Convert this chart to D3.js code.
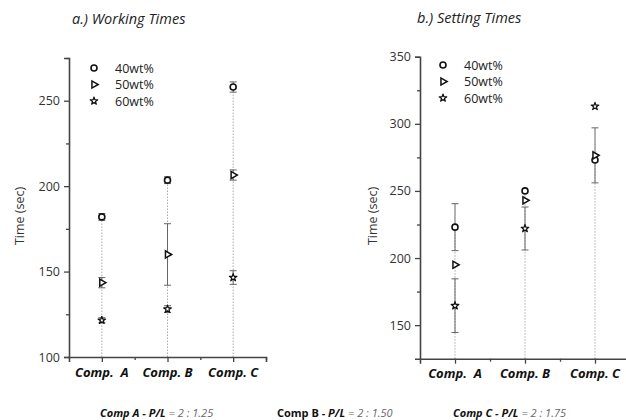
<!DOCTYPE html>
<html><head><meta charset="utf-8">
<script src="https://cdn.jsdelivr.net/npm/d3@7"></script>
<style>
body{margin:0;background:#fff;}
svg{font-family:"Open Sans","Noto Sans",sans-serif;}
</style></head>
<body><svg id="c" width="626" height="420"></svg>
<script>
const categories = ["Comp.  A", "Comp. B", "Comp. C"];
const seriesNames = ["40wt%", "50wt%", "60wt%"];
const working40 = [182, 203.5, 258];
const working40Err = [2, 2, 3];
const working50 = [143.5, 160, 206.5];
const working50Err = [3, 18, 3];
const working60 = [121.5, 128, 146.5];
const working60Err = [1.5, 2, 4];
const setting40 = [223, 250, 273];
const setting40Err = [17.5, 0, 0];
const setting50 = [195, 243, 276.5];
const setting50Err = [0, 0, 20.5];
const setting60 = [164.5, 222, 313];
const setting60Err = [20, 16, 0];
const workingTicks = [100, 125, 150, 175, 200, 225, 250, 275];
const settingTicks = [150, 175, 200, 225, 250, 275, 300, 325, 350];
const footers = [["Comp A", " - P/L", " = 2 : 1.25", true], ["Comp B", " - P/L", " = 2 : 1.50", false], ["Comp C", " - P/L", " = 2 : 1.75", true]];

const svg = d3.select("#c");

function panel(opts){
  const g = svg.append("g");
  const x = d3.scaleLinear().domain([0, 3]).range([opts.x0, opts.x1]);
  const y = d3.scaleLinear().domain(opts.domain).range([opts.y1, opts.y0]);
  const data = [[opts.v40, opts.e40], [opts.v50, opts.e50], [opts.v60, opts.e60]];

  // drop lines from 40wt% markers
  g.selectAll(".drop").data(categories).join("line")
    .attr("x1", (d,i)=>x(i+0.5)).attr("x2", (d,i)=>x(i+0.5))
    .attr("y1", y(opts.domain[0])).attr("y2", (d,i)=>y(opts.v40[i]))
    .attr("stroke", "#aaa").attr("stroke-width", 1).attr("stroke-dasharray", "1.5,1.5");

  // error bars
  data.forEach(([vals, errs]) => {
    vals.forEach((v, i) => {
      const e = errs[i];
      if (!e) return;
      const cx = x(i+0.5);
      const eg = g.append("g").attr("stroke", "#666").attr("stroke-width", 1);
      eg.append("line").attr("x1", cx).attr("x2", cx).attr("y1", y(v-e)).attr("y2", y(v+e));
      eg.append("line").attr("x1", cx-3.5).attr("x2", cx+3.5).attr("y1", y(v-e)).attr("y2", y(v-e));
      eg.append("line").attr("x1", cx-3.5).attr("x2", cx+3.5).attr("y1", y(v+e)).attr("y2", y(v+e));
    });
  });

  // markers
  data.forEach(([vals], s) => {
    vals.forEach((v, i) => {
      drawSym(g, s, x(i+0.5), y(v));
    });
  });

  // y axis
  const ya = d3.axisLeft(y).tickValues(opts.ticks).tickSize(5).tickPadding(4)
    .tickFormat(d => d % 50 === 0 ? d : "");
  const yg = g.append("g").attr("transform", `translate(${opts.x0},0)`).call(ya);
  yg.selectAll(".tick line").attr("x2", d => d % 50 === 0 ? -5 : -3);
  // x axis
  const xa = d3.axisBottom(x).tickValues([0.5, 1, 1.5, 2, 2.5, 3]).tickSize(5).tickFormat("");
  const xg = g.append("g").attr("transform", `translate(0,${opts.y1})`).call(xa);
  xg.selectAll(".tick line").attr("y2", d => d % 1 === 0.5 ? 5 : 3);
  [yg, xg].forEach(a => {
    a.select(".domain").attr("stroke", "#444").attr("stroke-width", 1.6);
    a.selectAll(".tick line").attr("stroke", "#444").attr("stroke-width", 1.3);
    a.selectAll("text").attr("font-size", 12.5).attr("fill", "#333").attr("font-family", "Open Sans");
  });

  // category labels
  g.selectAll(".cat").data(categories).join("text")
    .attr("x", (d,i)=>x(i+0.5)).attr("y", opts.catY)
    .attr("text-anchor", "middle").attr("font-size", 13).attr("font-weight", "bold")
    .attr("font-style", "italic").attr("fill", "#111").attr("xml:space", "preserve")
    .style("white-space", "pre").text(d=>d);

  // y title
  g.append("text").attr("transform", `translate(${opts.yTitleX},${opts.yTitleY}) rotate(-90)`)
    .attr("text-anchor", "middle").attr("font-size", 12.5).attr("fill", "#333").text("Time (sec)");

  // title
  g.append("text").attr("x", opts.titleX).attr("y", opts.titleY).attr("font-size", 14.5)
    .attr("font-style", "italic").attr("fill", "#222").text(opts.title);

  // legend
  seriesNames.forEach((n, s) => {
    const ly = opts.legY + s*16.5;
    drawSym(g, s, opts.legX, ly);
    g.append("text").attr("x", opts.legX + 21).attr("y", ly + 4.5).attr("font-size", 12.5)
      .attr("fill", "#222").text(n);
  });
}

function drawSym(g, s, cx, cy){
  if (s === 0) {
    g.append("circle").attr("cx", cx).attr("cy", cy).attr("r", 3)
      .attr("fill", "white").attr("stroke", "#111").attr("stroke-width", 1.6);
  } else if (s === 1) {
    g.append("path").attr("d", d3.symbol(d3.symbolTriangle, 22)())
      .attr("transform", `translate(${cx},${cy}) rotate(90)`)
      .attr("fill", "white").attr("stroke", "#111").attr("stroke-width", 1.5);
  } else {
    g.append("path").attr("d", d3.symbol(d3.symbolStar, 18)())
      .attr("transform", `translate(${cx},${cy})`)
      .attr("fill", "white").attr("stroke", "#111").attr("stroke-width", 1.2)
      .attr("stroke-linejoin", "round");
  }
}

panel({x0: 69, x1: 266, y0: 58, y1: 357, domain: [100, 275], ticks: workingTicks,
  v40: working40, e40: working40Err, v50: working50, e50: working50Err, v60: working60, e60: working60Err,
  catY: 377, yTitleX: 24, yTitleY: 216, titleX: 72, titleY: 24, title: "a.) Working Times",
  legX: 94, legY: 68});
panel({x0: 420, x1: 630, y0: 56.7, y1: 358.7, domain: [125, 350], ticks: settingTicks,
  v40: setting40, e40: setting40Err, v50: setting50, e50: setting50Err, v60: setting60, e60: setting60Err,
  catY: 378, yTitleX: 377, yTitleY: 216, titleX: 417, titleY: 23, title: "b.) Setting Times",
  legX: 443, legY: 65});

// footer
const fx = [100, 277, 453];
footers.forEach((f, i) => {
  const t = svg.append("text").attr("x", fx[i]).attr("y", 417).attr("font-size", 11);
  t.append("tspan").attr("font-weight", "bold").attr("font-style", f[3] ? "italic" : "normal").attr("fill", "#111").text(f[0]);
  t.append("tspan").attr("font-weight", "bold").attr("font-style", "italic").attr("fill", "#111").text(f[1]);
  t.append("tspan").attr("font-style", "italic").attr("fill", "#666").text(f[2]);
});
</script></body></html>
